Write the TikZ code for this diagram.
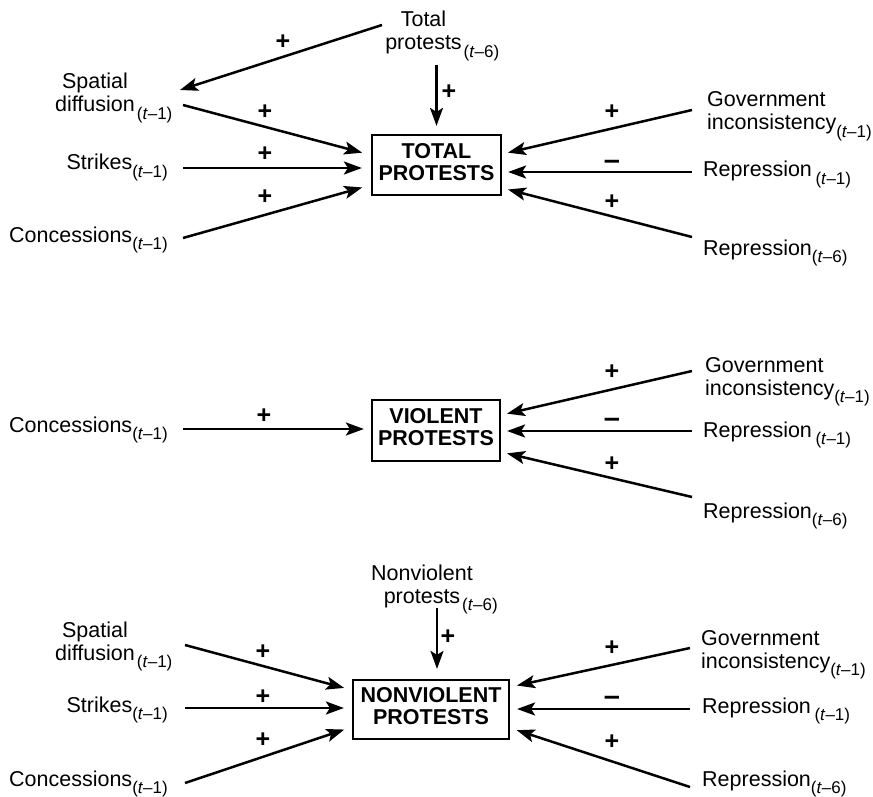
\documentclass[tikz,border=0pt]{standalone}
\usepackage{fontspec}
\setmainfont{Liberation Sans}
\usetikzlibrary{arrows.meta}
\newcommand{\lagx}[1]{\raisebox{-7.5pt}{\fontsize{17}{17}\selectfont(\textit{t}–#1)}}
\newcommand{\rlagx}[1]{\rlap{\hspace{2pt}\lagx{#1}}}
\newcommand{\twoc}[2]{\begin{tabular}[b]{@{}c@{}}#1\\#2\end{tabular}}
\newcommand{\twol}[2]{\begin{tabular}[b]{@{}l@{}}#1\\#2\end{tabular}}
\begin{document}
\begin{tikzpicture}[x=1pt,y=-1pt,
  lbl/.style={font=\fontsize{21.5}{23}\selectfont, inner sep=0pt},
  sgn/.style={font=\fontsize{25}{25}\selectfont\bfseries, inner sep=0pt},
  msgn/.style={font=\fontsize{29}{29}\selectfont\bfseries, inner sep=0pt},
  boxn/.style={draw, line width=2.2pt, inner sep=0pt, font=\fontsize{21.5}{22}\selectfont\bfseries},
  arr/.style={line width=2.5pt, -{Stealth[length=18pt,width=13pt,inset=4pt]}}]
\useasboundingbox[fill=white] (0,0) rectangle (873,797);

% ---------------- top: TOTAL PROTESTS ----------------
\node[boxn, minimum width=129pt, minimum height=60pt] (tp) at (436.5,165) {\twoc{TOTAL}{PROTESTS}};
\node[lbl, anchor=base] (ttot) at (423.5,50) {\twoc{Total}{protests\rlagx{6}}};
\node[lbl, anchor=base] (tsd) at (95,112) {\twoc{Spatial}{diffusion\rlagx{1}}};
\node[lbl, anchor=base east] (tst) at (168,170) {Strikes\lagx{1}};
\node[lbl, anchor=base east] (tco) at (168,242) {Concessions\lagx{1}};
\node[lbl, anchor=base west] (tgi) at (707,130) {\twol{Government}{inconsistency\lagx{1}}};
\node[lbl, anchor=base west] (tr1) at (703,177) {Repression\,\lagx{1}};
\node[lbl, anchor=base west] (tr6) at (703,255) {Repression\lagx{6}};

\coordinate (atot1) at (382,25);
\coordinate (atotend) at (180,90);
\coordinate (atot2) at (436.5,65);
\coordinate (asd) at (183,105);
\coordinate (ast) at (183,168);
\coordinate (aco) at (183,238);
\coordinate (agi) at (692,110);
\coordinate (ar1) at (692,172);
\coordinate (ar6) at (692,237);

\draw[arr] (atot1) -- (atotend);
\draw[arr, shorten >=8pt] (atot2) -- (tp.north);
\draw[arr, shorten >=9pt] (asd) -- ([yshift=10pt]tp.west);
\draw[arr, shorten >=9pt] (ast) -- ([yshift=-3pt]tp.west);
\draw[arr, shorten >=9pt] (aco) -- ([yshift=-20pt]tp.west);
\draw[arr, shorten >=6pt] (agi) -- ([yshift=11pt]tp.east);
\draw[arr, shorten >=6pt] (ar1) -- ([yshift=-7pt]tp.east);
\draw[arr, shorten >=6pt] (ar6) -- ([yshift=-23pt]tp.east);

\node[sgn] (s1) at (283,42) {+};
\node[sgn] (s2) at (449,92) {+};
\node[sgn] (s3) at (265,112) {+};
\node[sgn] (s4) at (265,154) {+};
\node[sgn] (s5) at (265,197) {+};
\node[sgn] (s6) at (612,112) {+};
\node[msgn] (s7) at (612,165) {–};
\node[sgn] (s8) at (612,202) {+};

% ---------------- middle: VIOLENT PROTESTS ----------------
\node[boxn, minimum width=128pt, minimum height=61pt] (vp) at (436,430.5) {\twoc{VIOLENT}{PROTESTS}};
\node[lbl, anchor=base east] (vco) at (168,432) {Concessions\lagx{1}};
\node[lbl, anchor=base west] (vgi) at (705,395) {\twol{Government}{inconsistency\lagx{1}}};
\node[lbl, anchor=base west] (vr1) at (703,437) {Repression\,\lagx{1}};
\node[lbl, anchor=base west] (vr6) at (703,518) {Repression\lagx{6}};

\coordinate (bco) at (183,429);
\coordinate (bgi) at (692,371);
\coordinate (br1) at (692,431);
\coordinate (br6) at (692,497);

\draw[arr, shorten >=7pt] (bco) -- ([yshift=1.5pt]vp.west);
\draw[arr, shorten >=6pt] (bgi) -- ([yshift=15.5pt]vp.east);
\draw[arr, shorten >=6pt] (br1) -- ([yshift=-0.5pt]vp.east);
\draw[arr, shorten >=6pt] (br6) -- ([yshift=-21.5pt]vp.east);

\node[sgn] (m1) at (264,416) {+};
\node[sgn] (m2) at (612,372) {+};
\node[msgn] (m3) at (612,423) {–};
\node[sgn] (m4) at (612,464) {+};

% ---------------- bottom: NONVIOLENT PROTESTS ----------------
\node[boxn, minimum width=156pt, minimum height=59pt] (np) at (431,709.5) {\twoc{NONVIOLENT}{PROTESTS}};
\node[lbl, anchor=base] (nnv) at (422,603) {\twoc{Nonviolent}{protests\rlagx{6}}};
\node[lbl, anchor=base] (nsd) at (95,660) {\twoc{Spatial}{diffusion\rlagx{1}}};
\node[lbl, anchor=base east] (nst) at (168,712) {Strikes\lagx{1}};
\node[lbl, anchor=base east] (nco) at (168,786) {Concessions\lagx{1}};
\node[lbl, anchor=base west] (ngi) at (701,668) {\twol{Government}{inconsistency\lagx{1}}};
\node[lbl, anchor=base west] (nr1) at (702,713) {Repression\,\lagx{1}};
\node[lbl, anchor=base west] (nr6) at (702,786) {Repression\lagx{6}};

\coordinate (cnv) at (437,608);
\coordinate (csd) at (185,645);
\coordinate (cst) at (185,708);
\coordinate (cco) at (185,783);
\coordinate (cgi) at (690,648);
\coordinate (cr1) at (690,709);
\coordinate (cr6) at (690,787);

\draw[arr, shorten >=10pt] (cnv) -- ([xshift=6pt]np.north);
\draw[arr, shorten >=8pt] (csd) -- ([yshift=19.5pt]np.west);
\draw[arr, shorten >=8pt] (cst) -- ([yshift=1.5pt]np.west);
\draw[arr, shorten >=8pt] (cco) -- ([yshift=-17.5pt]np.west);
\draw[arr, shorten >=7pt] (cgi) -- ([yshift=22.5pt]np.east);
\draw[arr, shorten >=7pt] (cr1) -- ([yshift=0.5pt]np.east);
\draw[arr, shorten >=7pt] (cr6) -- ([yshift=-18.5pt]np.east);

\node[sgn] (n1) at (448,637) {+};
\node[sgn] (n2) at (263,652) {+};
\node[sgn] (n3) at (263,697) {+};
\node[sgn] (n4) at (263,740) {+};
\node[sgn] (n5) at (612,648) {+};
\node[msgn] (n6) at (612,701) {–};
\node[sgn] (n7) at (612,742) {+};
\end{tikzpicture}
\end{document}
